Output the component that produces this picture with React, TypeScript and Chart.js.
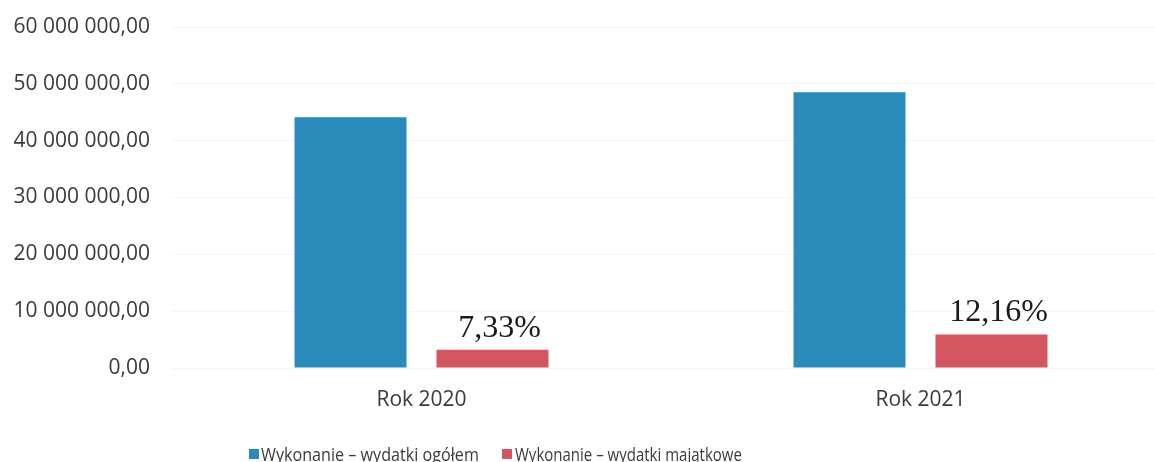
import React, { useEffect, useRef } from "react";
import { Chart, registerables } from "chart.js";

Chart.register(...registerables);

const categories = ["Rok 2020", "Rok 2021"];
const seriesNames = ["Wykonanie – wydatki ogółem", "Wykonanie – wydatki majątkowe"];
const totalSpending = [44100000, 48500000];
const capitalSpending = [3230000, 5900000];
const shareLabels = ["7,33%", "12,16%"];
const seriesColors = ["#2a8bbb", "#d2555f"];
const yMax = 60000000;
const yStep = 10000000;

const formatPl = (v: number) =>
  String(Math.round(v)).replace(/\B(?=(\d{3})+(?!\d))/g, " ") + ",00";

const shareLabelPlugin = {
  id: "shareLabels",
  afterDatasetsDraw(chart: any) {
    const meta = chart.getDatasetMeta(1);
    const ctx = chart.ctx;
    ctx.save();
    ctx.font = "32px 'Liberation Serif', 'Times New Roman', serif";
    ctx.fillStyle = "#1a1a1a";
    ctx.textAlign = "center";
    ctx.textBaseline = "alphabetic";
    meta.data.forEach((bar: any, i: number) => {
      ctx.fillText(shareLabels[i], bar.x + 7, bar.y - 13);
    });
    ctx.restore();
  },
};

const legendLayout = [
  { boxLeft: 249, textLeft: 261, scale: 0.85 },
  { boxLeft: 502, textLeft: 515, scale: 0.79 },
];

export default function App() {
  const ref = useRef<HTMLCanvasElement | null>(null);

  useEffect(() => {
    if (!ref.current) return;
    const chart = new Chart(ref.current, {
      type: "bar",
      data: {
        labels: categories,
        datasets: [
          {
            label: seriesNames[0],
            data: totalSpending,
            backgroundColor: seriesColors[0],
            categoryPercentage: 0.569,
            barPercentage: 0.789,
          },
          {
            label: seriesNames[1],
            data: capitalSpending,
            backgroundColor: seriesColors[1],
            categoryPercentage: 0.569,
            barPercentage: 0.789,
          },
        ],
      },
      options: {
        responsive: false,
        animation: false,
        layout: { padding: { top: 27, left: 0, right: 0, bottom: 0 } },
        plugins: {
          legend: { display: false },
          tooltip: { enabled: false },
        },
        scales: {
          x: {
            grid: { display: false },
            border: { display: false },
            ticks: {
              color: "#3a3a3a",
              font: { family: "'Open Sans', sans-serif", size: 21 },
              padding: 11,
            },
            afterFit: (scale: any) => {
              scale.height = 94;
            },
          },
          y: {
            min: 0,
            max: yMax,
            border: { display: false },
            grid: { color: "rgba(0,0,0,0.04)", drawTicks: false },
            ticks: {
              stepSize: yStep,
              color: "#3a3a3a",
              font: { family: "'Open Sans', sans-serif", size: 21 },
              padding: 22,
              callback: (v: any) => formatPl(Number(v)),
            },
            afterFit: (scale: any) => {
              scale.width = 172;
              scale.paddingTop = 0;
              scale.paddingBottom = 0;
            },
          },
        },
      },
      plugins: [shareLabelPlugin],
    });
    return () => chart.destroy();
  }, []);

  return (
    <div
      style={{
        position: "absolute",
        left: 0,
        top: 0,
        width: 1155,
        height: 462,
        overflow: "hidden",
        background: "#fff",
      }}
    >
      <canvas ref={ref} width={1170} height={462} style={{ position: "absolute", left: 0, top: 0 }} />
      {legendLayout.map((it, i) => (
        <React.Fragment key={i}>
          <span
            style={{
              position: "absolute",
              left: it.boxLeft,
              top: 449,
              width: 10,
              height: 10,
              background: seriesColors[i],
            }}
          />
          <span
            style={{
              position: "absolute",
              left: it.textLeft,
              top: 441,
              fontFamily: "'Open Sans', sans-serif",
              fontSize: 19,
              lineHeight: "26px",
              color: "#3a3a3a",
              whiteSpace: "nowrap",
              transform: `scaleX(${it.scale})`,
              transformOrigin: "0 0",
            }}
          >
            {seriesNames[i]}
          </span>
        </React.Fragment>
      ))}
    </div>
  );
}
